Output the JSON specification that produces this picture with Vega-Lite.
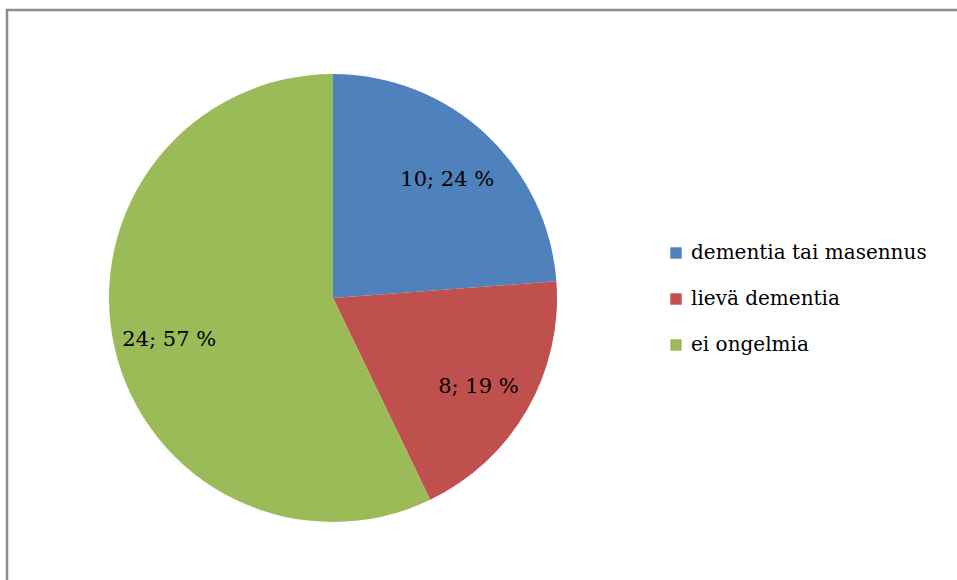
{
  "$schema": "https://vega.github.io/schema/vega-lite/v6.json",
  "width": 960,
  "height": 576,
  "autosize": {"type": "none"},
  "padding": {"left": 7, "top": 10, "right": 0, "bottom": 0},
  "background": "white",
  "view": {"stroke": "#8c8c8c", "strokeWidth": 2.5, "fill": "white"},
  "config": {
    "font": "DejaVu Serif"
  },
  "data": {
    "values": [
      {"category": "dementia tai masennus", "value": 10, "k": 1, "label": "10; 24 %"},
      {"category": "lievä dementia", "value": 8, "k": 2, "label": "8; 19 %"},
      {"category": "ei ongelmia", "value": 24, "k": 3, "label": "24; 57 %"}
    ]
  },
  "encoding": {
    "theta": {"field": "value", "type": "quantitative", "stack": true},
    "order": {"field": "k", "type": "quantitative"}
  },
  "layer": [
    {
      "mark": {"type": "arc", "outerRadius": 224, "x": 326, "y": 288},
      "encoding": {
        "color": {
          "field": "category",
          "type": "nominal",
          "sort": ["dementia tai masennus", "lievä dementia", "ei ongelmia"],
          "scale": {
            "domain": ["dementia tai masennus", "lievä dementia", "ei ongelmia"],
            "range": ["#4F81BD", "#C0504D", "#9BBB59"]
          },
          "legend": {
            "title": null,
            "orient": "none",
            "legendX": 659,
            "legendY": 233,
            "padding": 0,
            "symbolType": "square",
            "symbolSize": 130,
            "symbolStrokeWidth": 0,
            "labelFont": "DejaVu Serif",
            "labelFontSize": 20,
            "labelColor": "#000000",
            "labelOffset": 5,
            "rowPadding": 26,
            "labelLimit": 400
          }
        }
      }
    },
    {
      "mark": {"type": "text", "radius": 168, "x": 326, "y": 288, "dy": 5, "font": "DejaVu Serif", "fontSize": 21, "color": "#000000"},
      "encoding": {
        "text": {"field": "label", "type": "nominal"}
      }
    }
  ]
}
